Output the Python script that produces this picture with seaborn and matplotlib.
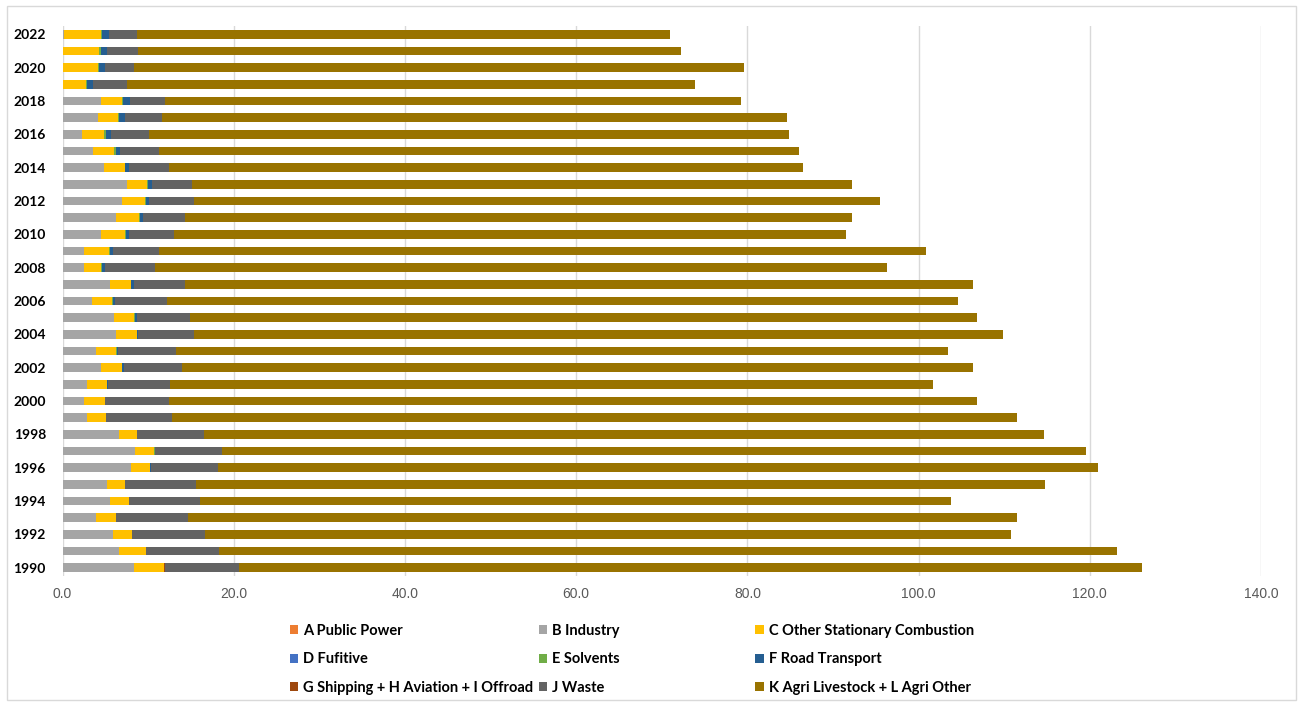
import matplotlib
matplotlib.use("Agg")
import matplotlib.pyplot as plt
from matplotlib.patches import Patch, Rectangle
import seaborn as sns
import pandas as pd

years = list(range(1990, 2023))

a_public_power = [0.0] * 33
b_industry = [8.4, 6.65, 5.9, 3.95, 5.6, 5.15, 8.05, 8.5, 6.55, 2.9, 2.55, 2.9, 4.55, 3.95, 6.25,
              6.05, 3.4, 5.6, 2.55, 2.5, 4.5, 6.25, 6.9, 7.5, 4.85, 3.6, 2.3, 4.1, 4.45, 0.1,
              0.1, 0.1, 0.2]
c_other_stationary = [3.45, 3.05, 2.2, 2.25, 2.15, 2.15, 2.15, 2.2, 2.2, 2.15, 2.4, 2.35, 2.35, 2.35,
                      2.4, 2.35, 2.4, 2.35, 2.0, 2.95, 2.85, 2.65, 2.75, 2.35, 2.4, 2.45, 2.6, 2.35,
                      2.5, 2.6, 4.0, 4.2, 4.25]
d_fugitive = [0.0] * 33
e_solvents = [0.0, 0.05, 0.05, 0.0, 0.0, 0.05, 0.05, 0.1, 0.0, 0.0, 0.05, 0.0, 0.0, 0.05, 0.0,
              0.1, 0.1, 0.1, 0.1, 0.1, 0.1, 0.1, 0.15, 0.1, 0.1, 0.2, 0.15, 0.2, 0.15, 0.2,
              0.2, 0.15, 0.2]
f_road_transport = [0.0, 0.0, 0.0, 0.0, 0.0, 0.0, 0.05, 0.0, 0.0, 0.0, 0.0, 0.1, 0.25, 0.15, 0.2,
                    0.2, 0.25, 0.25, 0.3, 0.35, 0.35, 0.4, 0.3, 0.45, 0.45, 0.45, 0.6, 0.7, 0.75,
                    0.6, 0.7, 0.8, 0.8]
g_shipping_aviation_offroad = [0.15] + [0.0] * 32
j_waste = [8.65, 8.55, 8.5, 8.5, 8.3, 8.2, 7.9, 7.8, 7.8, 7.7, 7.45, 7.2, 6.85, 6.7, 6.5, 6.2,
           6.1, 6.05, 5.9, 5.35, 5.25, 4.95, 5.2, 4.75, 4.65, 4.55, 4.5, 4.3, 4.15, 4.0, 3.4,
           3.55, 3.2]
k_agri = [105.5, 104.9, 94.1, 96.8, 87.7, 99.2, 102.7, 101.0, 98.1, 98.7, 94.35, 89.1, 92.3, 90.2,
          94.5, 91.9, 92.4, 92.0, 85.4, 89.65, 78.5, 77.9, 80.2, 77.1, 74.0, 74.8, 74.75, 73.0,
          67.3, 66.4, 71.25, 63.4, 62.35]

series_names = ["A Public Power", "B Industry", "C Other Stationary Combustion", "D Fufitive",
                "E Solvents", "F Road Transport", "G Shipping + H Aviation + I Offroad",
                "J Waste", "K Agri Livestock + L Agri Other"]
series_values = [a_public_power, b_industry, c_other_stationary, d_fugitive, e_solvents,
                 f_road_transport, g_shipping_aviation_offroad, j_waste, k_agri]
series_colors = ["#ED7D31", "#A5A5A5", "#FFC000", "#4472C4", "#70AD47", "#255E91",
                 "#9E480E", "#636363", "#997300"]

df = pd.DataFrame({name: vals for name, vals in zip(series_names, series_values)})
df["Year"] = [str(y) for y in years]
cum = df[series_names].cumsum(axis=1)
cum["Year"] = df["Year"]

order = [str(y) for y in reversed(years)]

fig = plt.figure(figsize=(13.03, 7.04), dpi=100)
ax = fig.add_axes([0.048, 0.182, 0.9198, 0.781])

# stacked bars: draw cumulative totals from the outermost segment inwards
for name, color in reversed(list(zip(series_names, series_colors))):
    sns.barplot(data=cum, x=name, y="Year", order=order, orient="h", color=color,
                saturation=1, width=0.52, linewidth=0, ax=ax, errorbar=None)

ax.set_xlim(0, 140)
ax.set_xticks(range(0, 141, 20))
ax.set_xticklabels([f"{v:.1f}" for v in range(0, 141, 20)], color="#595959",
                   fontsize=10, family=["Liberation Sans Narrow", "Liberation Sans"])
ax.set_yticks(range(len(order)))
ax.set_yticklabels([y if int(y) % 2 == 0 else "" for y in order], fontsize=10,
                   fontweight="bold", family="Lato", color="#000000")
ax.tick_params(axis="both", length=0)
ax.tick_params(axis="x", pad=8)
ax.tick_params(axis="y", pad=12)
ax.set_xlabel("")
ax.set_ylabel("")
ax.grid(axis="x", color="#D9D9D9", linewidth=1)
ax.grid(axis="y", visible=False)
ax.set_axisbelow(True)
for s in ax.spines.values():
    s.set_visible(False)

# legend laid out in three columns, filled row by row
col_x = [0.2222, 0.4133, 0.5798]
for c in range(3):
    idx = [c, c + 3, c + 6]
    handles = [Patch(facecolor=series_colors[i], edgecolor="none") for i in idx]
    labels = [series_names[i] for i in idx]
    fig.legend(handles, labels, loc="upper left", bbox_to_anchor=(col_x[c], 0.114),
               frameon=False, handlelength=0.6, handleheight=0.6, handletextpad=0.3,
               labelspacing=1.0, borderpad=0, borderaxespad=0,
               prop={"family": "Lato", "weight": "bold", "size": 10.5})

fig.patches.append(Rectangle((0.005, 0.006), 0.99, 0.985, transform=fig.transFigure,
                             fill=False, edgecolor="#D9D9D9", linewidth=1))

fig.savefig("out.png", dpi=100, facecolor="white")
